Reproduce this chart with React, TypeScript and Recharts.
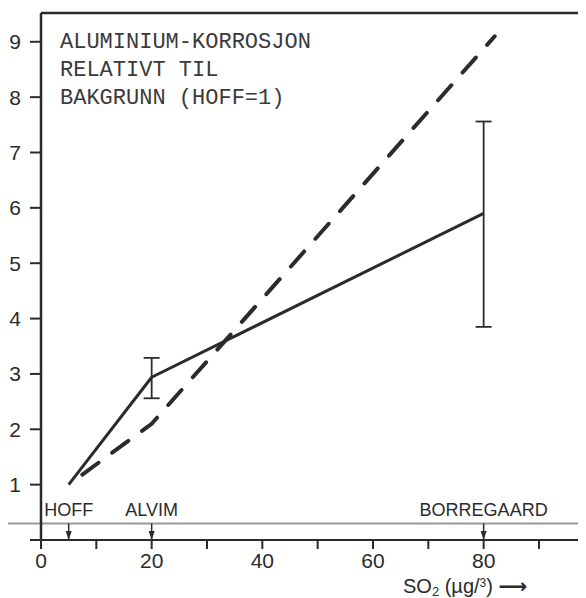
import React from "react";
import { LineChart, Line, XAxis, YAxis, ErrorBar, ReferenceLine } from "recharts";

const solidX = [5, 20, 80];
const solidY = [1, 2.94, 5.9];
const dashX = [5, 20, 82];
const dashY = [1, 2.1, 9.1];
const errX = [20, 80];
const errY = [2.94, 5.9];
const errLow = [0.38, 2.05];
const errHigh = [0.35, 1.66];

const siteNames = ["HOFF", "ALVIM", "BORREGAARD"];
const siteX = [5, 20, 80];

const xTicks = [0, 10, 20, 30, 40, 50, 60, 70, 80, 90];
const yTicks = [0, 1, 2, 3, 4, 5, 6, 7, 8, 9];
const noteLines = ["ALUMINIUM-KORROSJON", "RELATIVT TIL", "BAKGRUNN (HOFF=1)"];

const X_MAX = 98.5;
const Y_MAX = 9.52;
const BASE_LINE = 0.3;

const INK = "#2b2b2b";
const SANS = "'Liberation Sans', Arial, sans-serif";

const solidData = solidX.map((x, i) => ({ x, y: solidY[i] }));
const dashData = dashX.map((x, i) => ({ x, y: dashY[i] }));
const errData = errX.map((x, i) => ({ x, y: errY[i], err: [errLow[i], errHigh[i]] }));

function SiteArrow(props: any) {
  const { x1, y1, x2, y2 } = props;
  const top = Math.min(y1, y2);
  const bot = Math.max(y1, y2);
  return (
    <g>
      <line x1={x1} x2={x2} y1={top} y2={bot} stroke={INK} strokeWidth={1.5} />
      <path d={`M${x1 - 3},${bot - 9} L${x1 + 3},${bot - 9} L${x1},${bot} Z`} fill={INK} />
    </g>
  );
}

function Note({ viewBox }: any) {
  const x = viewBox.x + 19;
  return (
    <text
      x={x}
      y={viewBox.y + 35}
      fontFamily="'Liberation Mono', monospace"
      fontSize={22}
      fill="#3a3a3a"
    >
      {noteLines.map((t, i) => (
        <tspan key={i} x={x} dy={i === 0 ? 0 : 28}>
          {t}
        </tspan>
      ))}
    </text>
  );
}

function AxisTitle({ viewBox }: any) {
  return (
    <text x={viewBox.x + 362} y={viewBox.y + 53} fontFamily={SANS} fontSize={20} fill={INK}>
      <tspan>SO</tspan>
      <tspan fontSize={13} dy={3}>2</tspan>
      <tspan dy={-3}> (µg/</tspan>
      <tspan fontSize={12} dy={-6}>3</tspan>
      <tspan dy={6}>) </tspan>
      <tspan fontFamily="'DejaVu Sans', sans-serif" fontWeight="bold">⟶</tspan>
    </text>
  );
}

export default function App() {
  return (
    <LineChart width={578} height={590} margin={{ top: 5, right: 0, bottom: 0, left: 0 }}>
      <XAxis
        type="number"
        dataKey="x"
        domain={[0, X_MAX]}
        ticks={xTicks}
        allowDataOverflow
        tickFormatter={(v: number) => (v % 20 === 0 ? String(v) : "")}
        tickSize={9}
        tickMargin={4}
        height={58}
        axisLine={{ stroke: INK, strokeWidth: 2 }}
        tickLine={{ stroke: INK, strokeWidth: 2 }}
        tick={{ fill: INK, fontSize: 21, fontFamily: SANS }}
        label={<AxisTitle />}
      />
      <YAxis
        type="number"
        domain={[0, Y_MAX]}
        ticks={yTicks}
        allowDataOverflow
        tickFormatter={(v: number) => (v === 0 ? "" : String(v))}
        width={33}
        tickSize={11}
        tickMargin={9}
        axisLine={{ stroke: INK, strokeWidth: 2.5 }}
        tickLine={{ stroke: INK, strokeWidth: 2 }}
        tick={{ fill: INK, fontSize: 21, fontFamily: SANS }}
      />
      <ReferenceLine y={Y_MAX} stroke={INK} strokeWidth={2.5} label={<Note />} />
      <ReferenceLine
        segment={[{ x: -6, y: BASE_LINE }, { x: X_MAX, y: BASE_LINE }]}
        ifOverflow="visible"
        stroke="#9a9a9a"
        strokeWidth={2}
      />
      {siteX.map((sx, i) => (
        <ReferenceLine
          key={siteNames[i]}
          segment={[{ x: sx, y: BASE_LINE }, { x: sx, y: 0 }]}
          shape={<SiteArrow />}
          label={{ value: siteNames[i], position: "top", offset: 7, fill: INK, fontSize: 18, fontFamily: SANS }}
        />
      ))}
      <Line
        data={dashData}
        dataKey="y"
        stroke={INK}
        strokeWidth={4}
        strokeDasharray="20 17"
        strokeDashoffset={20}
        strokeLinecap="round"
        dot={false}
        isAnimationActive={false}
      />
      <Line
        data={solidData}
        dataKey="y"
        stroke={INK}
        strokeWidth={3}
        strokeLinejoin="round"
        dot={false}
        isAnimationActive={false}
      />
      <Line
        data={errData}
        dataKey="y"
        stroke="none"
        dot={false}
        isAnimationActive={false}
      >
        <ErrorBar dataKey="err" direction="y" width={8} stroke={INK} strokeWidth={1.8} />
      </Line>
    </LineChart>
  );
}
